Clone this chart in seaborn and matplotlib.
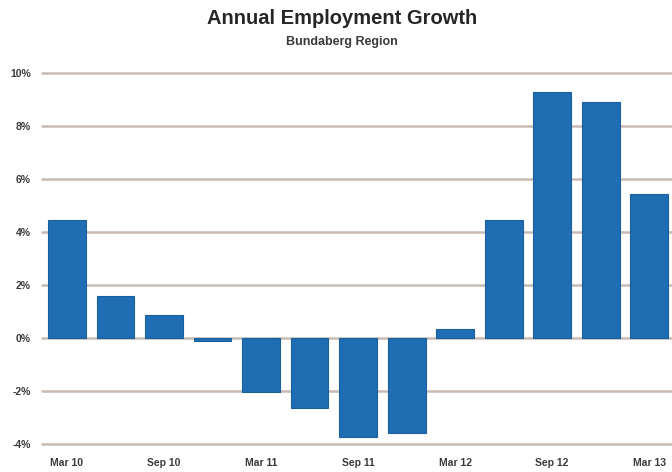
import matplotlib
matplotlib.use("Agg")
import matplotlib.pyplot as plt
import seaborn as sns
import pandas as pd

quarters = ["Mar 10", "Jun 10", "Sep 10", "Dec 10", "Mar 11", "Jun 11", "Sep 11",
            "Dec 11", "Mar 12", "Jun 12", "Sep 12", "Dec 12", "Mar 13"]
growth = [4.45, 1.6, 0.85, -0.1, -2.05, -2.65, -3.75, -3.6, 0.35, 4.45, 9.3, 8.9, 5.45]
shown_labels = ["Mar 10", "Sep 10", "Mar 11", "Sep 11", "Mar 12", "Sep 12", "Mar 13"]
y_ticks = [-4, -2, 0, 2, 4, 6, 8, 10]

df = pd.DataFrame({"quarter": quarters, "growth": growth})

sns.set_theme(style="white")
plt.rcParams["font.family"] = ["Liberation Sans", "DejaVu Sans"]

fig = plt.figure(figsize=(6.72, 4.72), dpi=100)
ax = fig.add_axes([42 / 672, 28 / 472, 1 - 42 / 672, 371 / 472])

sns.barplot(data=df, x="quarter", y="growth", color="#1f6db3", saturation=1,
            width=0.78, edgecolor="#1a5f9e", linewidth=0.8, ax=ax, zorder=3)

ax.set_ylim(-4, 10)
ax.set_xlim(-0.515, 12.47)
ax.set_yticks(y_ticks)
ax.set_yticklabels([f"{t}%" for t in y_ticks], fontsize=7.5, fontweight="bold",
                   color="#3a3a3a")
ax.yaxis.grid(True, color="#c9bab4", linewidth=1.8, zorder=0)
for gl in ax.get_ygridlines():
    gl.set_clip_on(False)
ax.set_axisbelow(True)

pos = [quarters.index(q) for q in shown_labels]
ax.set_xticks(pos)
ax.set_xticklabels(shown_labels, fontsize=7.5, fontweight="bold", color="#3a3a3a")
ax.tick_params(axis="y", length=0, pad=8)
ax.tick_params(axis="x", length=0, pad=10)
ax.set_xlabel("")
ax.set_ylabel("")
for s in ax.spines.values():
    s.set_visible(False)

fig.text(0.509, 0.96, "Annual Employment Growth", ha="center", va="center",
         fontsize=14.5, fontweight="bold", color="#262626")
fig.text(0.508, 0.91, "Bundaberg Region", ha="center", va="center",
         fontsize=9, fontweight="bold", color="#3a3a3a")

fig.savefig("out.png", dpi=100, facecolor="white")
